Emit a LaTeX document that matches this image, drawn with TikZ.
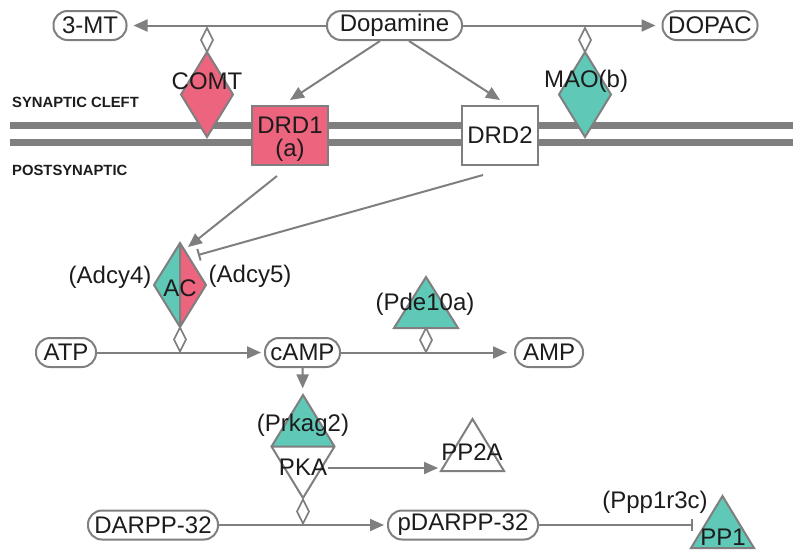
\documentclass[tikz,border=0pt]{standalone}
\usepackage{fontspec}
\setmainfont{Liberation Sans}
\usetikzlibrary{arrows.meta,shapes.geometric,calc}
\definecolor{lg}{HTML}{7F7F7F}
\definecolor{pinkc}{HTML}{EC647E}
\definecolor{tealc}{HTML}{5FC8B6}
\definecolor{txt}{HTML}{1E1B1C}
\begin{document}
\begin{tikzpicture}[x=1pt,y=-1pt,
 every node/.style={font=\fontsize{24}{20}\selectfont, text=txt},
 pill/.style={draw=lg, line width=2pt, fill=white, rounded corners=14pt, minimum height=29pt, inner xsep=4pt, inner ysep=0pt},
 arr/.style={draw=lg, line width=2pt, -{Triangle[length=14pt,width=12pt]}},
 inh/.style={draw=lg, line width=2pt, -{Bar[width=12pt,line width=2pt]}},
 smalld/.style={diamond, draw=lg, line width=1.6pt, fill=white, minimum width=12pt, minimum height=24pt, inner sep=0pt, outer sep=0pt},
 enz/.style={diamond, draw=lg, line width=2pt, minimum width=52pt, minimum height=85pt, inner sep=0pt, outer sep=0pt},
 box/.style={rectangle, draw=lg, line width=2pt, minimum width=76pt, minimum height=59pt, align=center, inner sep=0pt},
 tri/.style={draw=lg, line width=2pt, line join=miter},
 memb/.style={draw=lg, line width=7pt},
 side/.style={font=\fontsize{14.8}{16}\selectfont\bfseries, text=txt, anchor=west, inner sep=0pt},
]
\useasboundingbox (0,0) rectangle (800,558);
% membranes
\draw[memb] (10,125.5) -- (793,125.5);
\draw[memb] (10,142.5) -- (793,142.5);
\node[side] (cleft) at (12,102) {SYNAPTIC CLEFT};
\node[side] (post) at (12,170) {POSTSYNAPTIC};

% top row
\node[pill, minimum width=73pt] (mt) at (90,25.5) {3-MT};
\node[pill, minimum width=135pt] (dopa) at (394.5,25.5) {Dopamine};
\node[pill, minimum width=95pt] (dopac) at (710,25.5) {DOPAC};
\draw[arr, shorten >=6pt] (dopa) -- (mt);
\draw[arr, shorten >=6pt] (dopa) -- (dopac);

% enzymes
\node[smalld] (comtl) at (207,40) {};
\node[enz, fill=pinkc] (comt) at (207,94.5) {};
\node (comtt) at (207,81) {COMT};
\node[smalld] (maol) at (585,40) {};
\node[enz, fill=tealc] (mao) at (585,94.5) {};
\node (maot) at (586,81) {MAO(b)};

% receptors
\node[box, fill=pinkc] (drd1) at (290,135.5) {};
\node[inner sep=0pt] (drd1a) at (290,125.5) {DRD1};
\node[inner sep=0pt] (drd1b) at (290,150.5) {(a)};
\node[box, fill=white] (drd2) at (500,135.5) {DRD2};
\draw[arr] ([xshift=-14.5pt]dopa.south) -- ([yshift=5pt]drd1.north);
\draw[arr] ([xshift=14.5pt]dopa.south) -- ([yshift=5pt]drd2.north);

% AC
\node[enz, draw=none, minimum height=84pt] (ac) at (180,285) {};
\fill[tealc] (ac.north) -- (ac.south) -- (ac.west) -- cycle;
\fill[pinkc] (ac.north) -- (ac.south) -- (ac.east) -- cycle;
\draw[lg, line width=2pt, line join=miter] (ac.north) -- (ac.east) -- (ac.south) -- (ac.west) -- cycle (ac.north) -- (ac.south);
\node (act) at (180,288) {AC};
\node (adcy4) at (110,277) {(Adcy4)};
\node (adcy5) at (250,276) {(Adcy5)};
\draw[arr] ([xshift=-13pt,yshift=-10pt]drd1.south) -- ([xshift=8pt,yshift=-4pt]ac.north);
\draw[inh] ([xshift=-17pt,yshift=-9pt]drd2.south) -- ([xshift=18pt,yshift=-12pt]ac.north);

% cAMP row
\node[pill, minimum width=60pt] (atp) at (66,352.5) {ATP};
\node[pill, minimum width=75pt] (camp) at (302.5,352.5) {cAMP};
\node[pill, minimum width=68pt] (amp) at (549,352.5) {AMP};
\draw[arr, shorten >=3pt] (atp) -- (camp);
\draw[arr, shorten >=7pt] (camp) -- (amp);
\node[smalld] (acl) at (180,339.5) {};

% Pde10a
\coordinate (pde) at (426,302.5);
\draw[tri, fill=tealc] ($(pde)+(0,-25.5)$) -- ($(pde)+(32,25.5)$) -- ($(pde)+(-32,25.5)$) -- cycle;
\node (pdet) at (425,304) {(Pde10a)};
\node[smalld] (pdel) at (426,340) {};

% PKA
\node[diamond, draw=none, minimum width=63pt, minimum height=103pt, inner sep=0pt, outer sep=0pt] (pka) at (303,446.5) {};
\fill[tealc] (pka.north) -- (pka.east) -- (pka.west) -- cycle;
\fill[white] (pka.south) -- (pka.east) -- (pka.west) -- cycle;
\draw[lg, line width=2pt, line join=miter] (pka.north) -- (pka.east) -- (pka.south) -- (pka.west) -- cycle (pka.west) -- (pka.east);
\node (prk) at (303,425) {(Prkag2)};
\node (pkat) at (303,467) {PKA};
\draw[arr, shorten >=7pt] (camp) -- (pka);

% PP2A
\coordinate (pp2a) at (472.5,445);
\draw[tri, fill=white] ($(pp2a)+(0,-26)$) -- ($(pp2a)+(31.5,26)$) -- ($(pp2a)+(-31.5,26)$) -- cycle;
\node (pp2at) at (472,452) {PP2A};
\draw[arr] ([xshift=25pt,yshift=-21.5pt]pka.center) -- ([xshift=-34.5pt,yshift=-23pt]pp2a);

% DARPP row
\node[smalld] (pkal) at (303,511.5) {};
\node[pill, minimum width=130pt] (darpp) at (153,525) {DARPP-32};
\node[pill, minimum width=150pt] (pdarpp) at (463,525) {pDARPP-32};
\draw[arr, shorten >=3pt] (darpp) -- (pdarpp);

% PP1
\coordinate (pp1) at (722.5,525);
\draw[tri, fill=tealc] ($(pp1)+(0,-29)$) -- ($(pp1)+(31.5,23)$) -- ($(pp1)+(-31.5,23)$) -- cycle;
\node (ppp) at (655,502) {(Ppp1r3c)};
\node (pp1t) at (723,537) {PP1};
\draw[inh] (pdarpp) -- ([xshift=-29.5pt]pp1);
\end{tikzpicture}
\end{document}
